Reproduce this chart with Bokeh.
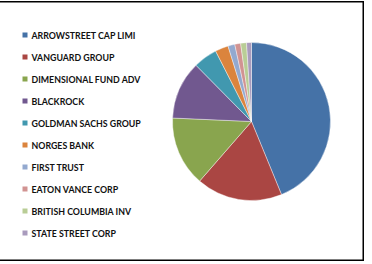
import numpy as np
from bokeh.plotting import figure
from bokeh.models import Range1d, ColumnDataSource
from bokeh.core.properties import value
from bokeh.embed import file_html
from bokeh.resources import INLINE

holders = ["ARROWSTREET CAP LIMI", "VANGUARD GROUP", "DIMENSIONAL FUND ADV", "BLACKROCK",
           "GOLDMAN SACHS GROUP", "NORGES BANK", "FIRST TRUST", "EATON VANCE CORP",
           "BRITISH COLUMBIA INV", "STATE STREET CORP"]
shares = [43.8, 17.6, 14.3, 11.9, 4.9, 2.7, 1.4, 1.2, 1.2, 1.0]
colors = ["#4572A7", "#AA4643", "#89A54E", "#71588F", "#4198AF",
          "#DB843D", "#93A9CF", "#D19392", "#B9CD96", "#A99BBD"]

frac = np.array(shares) / np.sum(shares)
cum = np.concatenate([[0.0], np.cumsum(frac)])
start = np.pi / 2 - cum[:-1] * 2 * np.pi
end = np.pi / 2 - cum[1:] * 2 * np.pi

W, H = 374, 260
p = figure(width=W, height=H, x_range=Range1d(-10, W - 10), y_range=Range1d(0, H),
           output_backend="svg", toolbar_location=None, min_border=0,
           margin=(1, 0, 0, -10))
p.axis.visible = False
p.grid.visible = False
p.outline_line_color = "black"
p.outline_line_width = 2
p.background_fill_color = "white"
p.border_fill_color = "white"

src = ColumnDataSource(dict(start=start, end=end, color=colors, name=holders))
p.wedge(x=251, y=140, radius=79, start_angle="start", end_angle="end", direction="clock",
        fill_color="color", line_color="white", line_width=0.4, source=src)

n = len(holders)
ly = 226.5 - np.arange(n) * 22.0
lsrc = ColumnDataSource(dict(x=[24.5] * n, tx=[31] * n, y=ly, color=colors, name=holders))
p.scatter(x="x", y="y", marker="square", size=5, fill_color="color", line_color=None, source=lsrc)
p.text(x="tx", y="y", text="name", text_font=value("Lato"), text_font_style="bold",
       text_font_size="8.8px", text_baseline="middle", text_color="#111111", source=lsrc)

open("out.html", "w").write(file_html(p, INLINE))
